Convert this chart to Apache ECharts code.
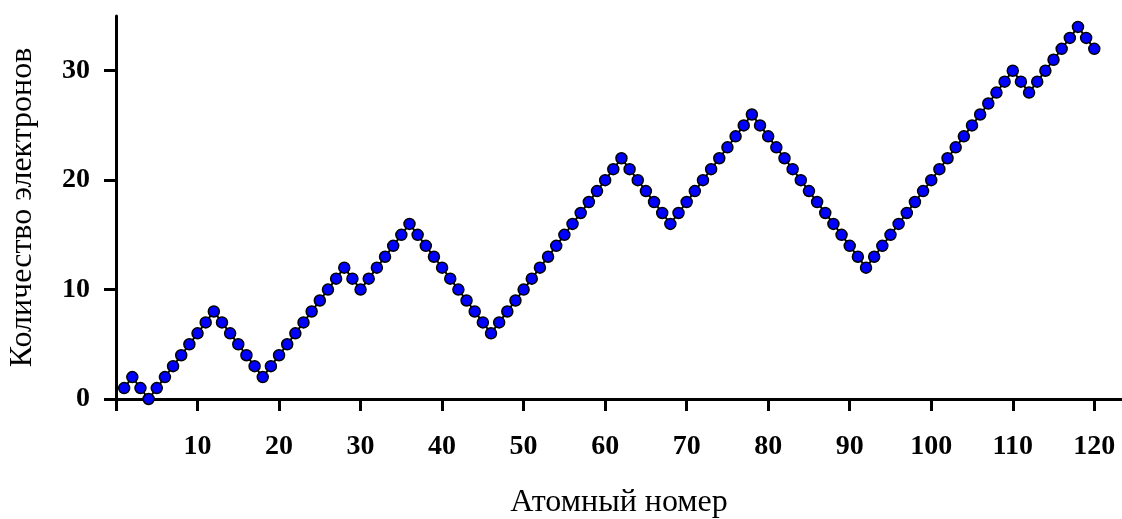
<!DOCTYPE html>
<html>
<head>
<meta charset="utf-8">
<script src="https://cdn.jsdelivr.net/npm/echarts@6/dist/echarts.min.js"></script>
<style>
  html, body { margin: 0; padding: 0; background: #fff; }
  #chart { width: 1122px; height: 519px; }
</style>
</head>
<body>
<div id="chart"></div>
<script>
// atomic numbers 1..120
const atomicNumbers = [
  1, 2, 3, 4, 5, 6, 7, 8, 9, 10, 11, 12, 13, 14, 15, 16, 17, 18, 19, 20,
  21, 22, 23, 24, 25, 26, 27, 28, 29, 30, 31, 32, 33, 34, 35, 36, 37, 38, 39, 40,
  41, 42, 43, 44, 45, 46, 47, 48, 49, 50, 51, 52, 53, 54, 55, 56, 57, 58, 59, 60,
  61, 62, 63, 64, 65, 66, 67, 68, 69, 70, 71, 72, 73, 74, 75, 76, 77, 78, 79, 80,
  81, 82, 83, 84, 85, 86, 87, 88, 89, 90, 91, 92, 93, 94, 95, 96, 97, 98, 99, 100,
  101, 102, 103, 104, 105, 106, 107, 108, 109, 110, 111, 112, 113, 114, 115, 116, 117, 118, 119, 120
]
const electronCounts = [
  1, 2, 1, 0, 1, 2, 3, 4, 5, 6, 7, 8, 7, 6, 5, 4, 3, 2, 3, 4,
  5, 6, 7, 8, 9, 10, 11, 12, 11, 10, 11, 12, 13, 14, 15, 16, 15, 14, 13, 12,
  11, 10, 9, 8, 7, 6, 7, 8, 9, 10, 11, 12, 13, 14, 15, 16, 17, 18, 19, 20,
  21, 22, 21, 20, 19, 18, 17, 16, 17, 18, 19, 20, 21, 22, 23, 24, 25, 26, 25, 24,
  23, 22, 21, 20, 19, 18, 17, 16, 15, 14, 13, 12, 13, 14, 15, 16, 17, 18, 19, 20,
  21, 22, 23, 24, 25, 26, 27, 28, 29, 30, 29, 28, 29, 30, 31, 32, 33, 34, 33, 32
]
const xTitle = 'Атомный номер'
const yTitle = 'Количество электронов'

const font = '"Liberation Serif", "DejaVu Serif", serif'

const chart = echarts.init(document.getElementById('chart'))

chart.setOption({
  animation: false,
  grid: {
    left: 116, right: 0, top: 16, bottom: 120,
    containLabel: false,
    outerBoundsMode: 'none'
  },
  xAxis: {
    type: 'value',
    min: 0,
    max: 123.4,
    interval: 10,
    name: xTitle,
    nameLocation: 'middle',
    nameGap: 88,
    nameTextStyle: { fontFamily: font, fontSize: 32, color: '#000' },
    axisLine: { onZero: false, lineStyle: { color: '#000', width: 3 } },
    axisTick: { show: true, length: 12, lineStyle: { color: '#000', width: 3 } },
    axisLabel: {
      margin: 34,
      fontFamily: font, fontSize: 28, fontWeight: 'bold', color: '#000',
      showMaxLabel: false,
      formatter: (v) => (v === 0 ? '' : String(v))
    },
    splitLine: { show: false }
  },
  yAxis: {
    type: 'value',
    min: 0,
    max: 35,
    interval: 10,
    name: yTitle,
    nameLocation: 'middle',
    nameGap: 77,
    nameTextStyle: { fontFamily: font, fontSize: 32, color: '#000' },
    axisLine: { show: true, lineStyle: { color: '#000', width: 3 } },
    axisTick: { show: true, length: 12, lineStyle: { color: '#000', width: 3 } },
    axisLabel: {
      margin: 26,
      fontFamily: font, fontSize: 28, fontWeight: 'bold', color: '#000',
      showMaxLabel: false
    },
    splitLine: { show: false }
  },
  series: [
    {
      type: 'line',
      data: atomicNumbers.map((z, i) => [z, electronCounts[i]]),
      symbol: 'circle',
      symbolSize: 11,
      lineStyle: { color: '#000', width: 2 },
      itemStyle: { color: '#0000ff', borderColor: '#000', borderWidth: 1.5 },
      z: 3
    }
  ]
})
</script>
</body>
</html>
